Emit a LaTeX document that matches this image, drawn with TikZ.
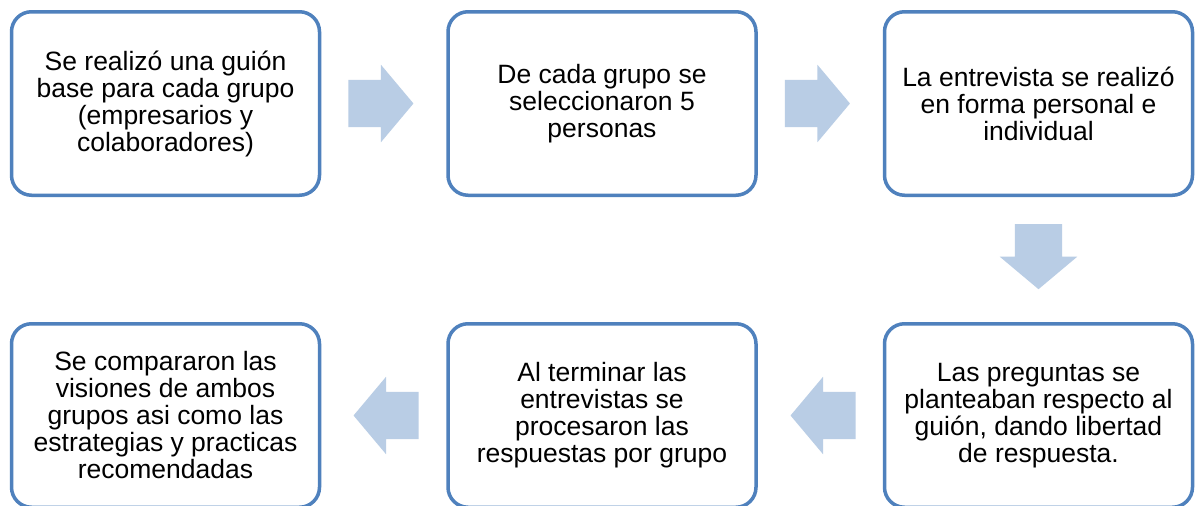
\documentclass[tikz,border=0pt]{standalone}
\usepackage{fontspec}
\setmainfont{Liberation Sans}
\usetikzlibrary{positioning, calc, shapes.arrows}
\definecolor{boxline}{RGB}{79,129,189}
\definecolor{arrowfill}{RGB}{185,205,229}
\tikzset{
  stepbox/.style={draw=boxline, line width=3.5pt, rounded corners=20pt, fill=white,
    minimum width=308pt, minimum height=183.5pt, align=center, inner sep=0pt,
    font=\fontsize{26.5}{27}\selectfont},
  blockarrow/.style={single arrow, fill=arrowfill, draw=none, anchor=tail,
    inner xsep=0pt, inner ysep=23.5pt, minimum height=65pt,
    single arrow head extend=15pt, single arrow tip angle=100}
}
\begin{document}
\begin{tikzpicture}[x=1pt, y=-1pt, node distance=125pt]
\clip (0,0) rectangle (1195,506);
\fill[white] (0,0) rectangle (1195,506);
\node[stepbox] (b1) at (165.5,103.5) {Se realizó una guión\\base para cada grupo\\(empresarios y\\colaboradores)};
\node[stepbox, right=of b1] (b2) {De cada grupo se\\seleccionaron 5\\personas};
\node[stepbox, right=of b2] (b3) {La entrevista se realizó\\en forma personal e\\individual};
\node[stepbox, below=of b3] (b4) {Las preguntas se\\planteaban respecto al\\guión, dando libertad\\de respuesta.};
\node[stepbox, left=of b4] (b5) {Al terminar las\\entrevistas se\\procesaron las\\respuestas por grupo};
\node[stepbox, left=of b5] (b6) {Se compararon las\\visiones de ambos\\grupos asi como las\\estrategias y practicas\\recomendadas};

\node[blockarrow] (a12) at ($(b1.east)+(27,0)$) {};
\node[blockarrow] (a23) at ($(b2.east)+(27,0)$) {};
\node[blockarrow, shape border rotate=270, inner xsep=23.5pt, inner ysep=0pt] (a34) at ($(b3.south)+(0,27)$) {};
\node[blockarrow, shape border rotate=180] (a45) at ($(b4.west)+(-27,0)$) {};
\node[blockarrow, shape border rotate=180] (a56) at ($(b5.west)+(-27.5,0)$) {};
\end{tikzpicture}
\end{document}
